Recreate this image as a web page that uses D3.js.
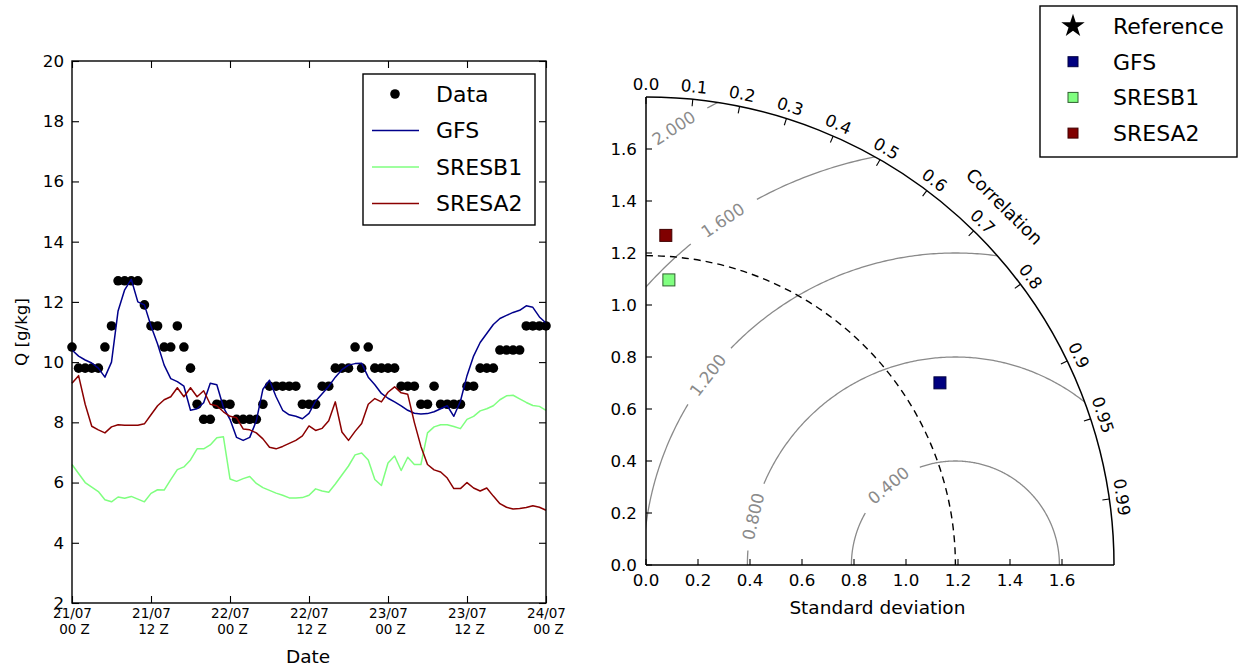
<!DOCTYPE html>
<html>
<head>
<meta charset="utf-8">
<script src="https://cdn.jsdelivr.net/npm/d3@7"></script>
<style>
  body { margin: 0; background: #fff; }
  svg { display: block; }
  text { font-family: "DejaVu Sans", sans-serif; }
</style>
</head>
<body>
<svg id="fig" width="1240" height="663"></svg>
<script>
// ---------------- Time series: specific humidity, hourly from 21/07 00 Z ----------------
const obsQ = [
  10.5, 9.8, 9.8, 9.8, 9.8, 10.5, 11.2, 12.7, 12.7, 12.7, 12.7, 11.9, 11.2, 11.2,
  10.5, 10.5, 11.2, 10.5, 9.8, 8.6, 8.1, 8.1, 8.6, 8.6, 8.6, 8.1, 8.1, 8.1, 8.1,
  8.6, 9.2, 9.2, 9.2, 9.2, 9.2, 8.6, 8.6, 8.6, 9.2, 9.2, 9.8, 9.8, 9.8, 10.5,
  9.8, 10.5, 9.8, 9.8, 9.8, 9.8, 9.2, 9.2, 9.2, 8.6, 8.6, 9.2, 8.6, 8.6, 8.6,
  8.6, 9.2, 9.2, 9.8, 9.8, 9.8, 10.4, 10.4, 10.4, 10.4, 11.2, 11.2, 11.2, 11.2
];
const gfsQ = [
  10.4, 10.2, 10.07, 9.97, 9.8, 9.5, 10.0, 11.7, 12.4, 12.75, 12.0, 11.9, 11.2, 10.6,
  9.9, 9.45, 9.35, 9.2, 8.4, 8.45, 8.65, 9.3, 9.25, 8.5, 8.1, 7.5, 7.4, 7.5, 8.05,
  9.1, 9.4, 8.85, 8.4, 8.25, 8.2, 8.12, 8.3, 8.7, 8.95, 9.2, 9.5, 9.75, 9.9, 9.95,
  9.96, 9.5, 9.25, 8.96, 8.8, 8.68, 8.55, 8.4, 8.3, 8.28, 8.29, 8.35, 8.45, 8.55,
  8.2, 8.7, 9.55, 10.2, 10.65, 10.95, 11.25, 11.45, 11.55, 11.65, 11.72, 11.87,
  11.82, 11.5, 11.3
];
const sresb1Q = [
  6.6, 6.3, 6.0, 5.85, 5.7, 5.43, 5.36, 5.52, 5.48, 5.54, 5.45, 5.36, 5.64, 5.76,
  5.75, 6.1, 6.43, 6.52, 6.75, 7.12, 7.12, 7.25, 7.49, 7.52, 6.12, 6.04, 6.13, 6.2,
  5.97, 5.83, 5.74, 5.65, 5.58, 5.49, 5.49, 5.5, 5.58, 5.79, 5.72, 5.68, 5.95, 6.25,
  6.55, 6.92, 6.98, 6.75, 6.1, 5.9, 6.65, 6.88, 6.4, 6.84, 6.6, 6.6, 7.65, 7.85,
  7.92, 7.92, 7.86, 7.79, 8.1, 8.2, 8.38, 8.45, 8.55, 8.75, 8.88, 8.9, 8.78, 8.66,
  8.56, 8.53, 8.4
];
const sresa2Q = [
  9.3, 9.55, 8.6, 7.87, 7.75, 7.65, 7.85, 7.92, 7.9, 7.9, 7.9, 7.95, 8.25, 8.55,
  8.75, 8.85, 9.15, 8.85, 9.15, 8.85, 9.05, 8.6, 8.55, 8.35, 8.2, 8.15, 7.78, 7.75,
  7.65, 7.45, 7.17, 7.12, 7.2, 7.3, 7.4, 7.55, 7.88, 7.73, 7.8, 8.05, 8.68, 7.68,
  7.4, 7.7, 7.96, 8.6, 8.79, 8.68, 9.0, 9.18, 8.98, 8.93, 8.0, 7.2, 6.6, 6.42,
  6.35, 6.15, 5.8, 5.8, 6.0, 5.82, 5.72, 5.82, 5.55, 5.3, 5.18, 5.12, 5.14, 5.17,
  5.23, 5.18, 5.08
];
const timeTickHours = [0, 12, 24, 36, 48, 60, 72];
const timeTickLabels = [
  ["21/07", "00 Z"], ["21/07", "12 Z"], ["22/07", "00 Z"], ["22/07", "12 Z"],
  ["23/07", "00 Z"], ["23/07", "12 Z"], ["24/07", "00 Z"]
];
const qTicks = [2, 4, 6, 8, 10, 12, 14, 16, 18, 20];
const seriesNames = ["Data", "GFS", "SRESB1", "SRESA2"];

// ---------------- Taylor diagram statistics ----------------
const refStd = 1.19;
const modelNames = ["GFS", "SRESB1", "SRESA2"];
const modelStd = [1.33, 1.10, 1.27];
const modelCorr = [0.85, 0.08, 0.06];
const rmsLevels = [0.4, 0.8, 1.2, 1.6, 2.0];
const corrTicks = [0.0, 0.1, 0.2, 0.3, 0.4, 0.5, 0.6, 0.7, 0.8, 0.9, 0.95, 0.99];
const stdTicks = [0.0, 0.2, 0.4, 0.6, 0.8, 1.0, 1.2, 1.4, 1.6];
const stdMax = 1.8;

// colours
const colGFS = "#00008b";
const colB1 = "#7fff7f";
const colA2 = "#8b0000";
const modelFill = ["#000080", "#80ff80", "#800000"];
const modelEdge = ["#000040", "#2f5f2f", "#400000"];

const svg = d3.select("#fig");
const FS = 16.7;

// =============== left panel: time series ===============
const xL = d3.scaleLinear().domain([0, 72]).range([72, 546]);
const yL = d3.scaleLinear().domain([2, 20]).range([603, 61]);
const left = svg.append("g");

// observations
left.append("g").selectAll("circle").data(obsQ).join("circle")
  .attr("cx", (d, i) => xL(i)).attr("cy", d => yL(d)).attr("r", 4.8)
  .attr("fill", "#000");

const lineGen = d3.line().x((d, i) => xL(i)).y(d => yL(d));
[[gfsQ, colGFS], [sresb1Q, colB1], [sresa2Q, colA2]].forEach(([s, c]) => {
  left.append("path").datum(s).attr("d", lineGen)
    .attr("fill", "none").attr("stroke", c).attr("stroke-width", 1.5)
    .attr("stroke-linejoin", "round");
});

// frame
left.append("rect")
  .attr("x", xL(0)).attr("y", yL(20))
  .attr("width", xL(72) - xL(0)).attr("height", yL(2) - yL(20))
  .attr("fill", "none").attr("stroke", "#000").attr("stroke-width", 1.4);

function styleAxis(g) {
  g.select(".domain").remove();
  g.selectAll("line").attr("stroke", "#000").attr("stroke-width", 1.1);
  g.selectAll("text").attr("fill", "#000").style("font-family", "DejaVu Sans");
}
left.append("g").attr("transform", `translate(${xL(0)},0)`)
  .call(d3.axisLeft(yL).tickValues(qTicks).tickSize(-7).tickPadding(8).tickFormat(d3.format("d")))
  .call(styleAxis).selectAll("text").attr("font-size", FS);
left.append("g").attr("transform", `translate(${xL(72)},0)`)
  .call(d3.axisRight(yL).tickValues(qTicks).tickSize(-7).tickFormat(""))
  .call(styleAxis);
left.append("g").attr("transform", `translate(0,${yL(20)})`)
  .call(d3.axisTop(xL).tickValues(timeTickHours).tickSize(-7).tickFormat(""))
  .call(styleAxis);
const xAx = left.append("g").attr("transform", `translate(0,${yL(2)})`)
  .call(d3.axisBottom(xL).tickValues(timeTickHours).tickSize(-7).tickFormat(""))
  .call(styleAxis);
xAx.selectAll(".tick").append("text")
  .attr("text-anchor", "middle").attr("font-size", 13.5).attr("fill", "#000")
  .each(function (d) {
    const lab = timeTickLabels[timeTickHours.indexOf(d)];
    const t = d3.select(this);
    t.append("tspan").attr("x", 0).attr("y", 15).text(lab[0]);
    t.append("tspan").attr("x", 2).attr("y", 31).text(lab[1]);
  });

left.append("text").attr("x", 308).attr("y", 663).attr("text-anchor", "middle")
  .attr("font-size", 18.5).text("Date");
left.append("text").attr("transform", "translate(27,332) rotate(-90)")
  .attr("text-anchor", "middle").attr("font-size", FS).text("Q [g/kg]");

// legend
const legL = left.append("g").attr("transform", "translate(363,74)");
legL.append("rect").attr("width", 172).attr("height", 151)
  .attr("fill", "#fff").attr("stroke", "#000").attr("stroke-width", 1.4);
seriesNames.forEach((name, i) => {
  const y = 20 + i * 36.5;
  if (i === 0) {
    legL.append("circle").attr("cx", 32).attr("cy", y).attr("r", 4.8).attr("fill", "#000");
  } else {
    legL.append("line").attr("x1", 9).attr("x2", 56).attr("y1", y).attr("y2", y)
      .attr("stroke", [colGFS, colB1, colA2][i - 1]).attr("stroke-width", 1.5);
  }
  legL.append("text").attr("x", 73).attr("y", y).attr("dy", "0.36em")
    .attr("font-size", 22).text(name);
});

// =============== right panel: Taylor diagram ===============
const O = { x: 646, y: 565 };
const rS = d3.scaleLinear().domain([0, stdMax]).range([0, 468]);
const P = (x, y) => [O.x + rS(x), O.y - rS(y)];
const R = rS(stdMax);
const tay = svg.append("g");

const defs = svg.append("defs");
defs.append("clipPath").attr("id", "quarter").append("path")
  .attr("d", `M${O.x},${O.y} L${O.x + R},${O.y} A${R},${R} 0 0 0 ${O.x},${O.y - R} Z`);
defs.append("clipPath").attr("id", "above").append("rect")
  .attr("x", O.x - 20).attr("y", O.y - R - 20).attr("width", R + 40).attr("height", R + 21);

// RMS difference contours with inline label gaps (degrees around the reference point)
const labelAt = { 0.4: [130, 20], 0.8: [166.5, 9.5], 1.2: [142.5, 6.5], 1.6: [124, 5.5], 2.0: [122.8, 4] };
const contourG = tay.append("g").attr("clip-path", "url(#quarter)");
const arcLine = d3.line().defined(d => d !== null).x(d => d[0]).y(d => d[1]);
rmsLevels.forEach(k => {
  const [ca, hw] = labelAt[k];
  const pts = d3.range(0, 180.01, 0.5).map(a => {
    if (Math.abs(a - ca) < hw) return null;
    const t = a * Math.PI / 180;
    return P(refStd + k * Math.cos(t), k * Math.sin(t));
  });
  contourG.append("path").attr("d", arcLine(pts))
    .attr("fill", "none").attr("stroke", "#8a8a8a").attr("stroke-width", 1.3);
  const t = ca * Math.PI / 180;
  const [lx, ly] = P(refStd + k * Math.cos(t), k * Math.sin(t));
  tay.append("text").attr("transform", `translate(${lx},${ly}) rotate(${90 - ca})`)
    .attr("text-anchor", "middle").attr("dy", "0.36em")
    .attr("font-size", FS).attr("fill", "#8a8a8a").text(k.toFixed(3));
});

// reference std arc (dashed), from the std axis down to the reference point
const rRef = rS(refStd);
tay.append("path")
  .attr("d", `M${O.x},${O.y - rRef} A${rRef},${rRef} 0 0 1 ${O.x + rRef},${O.y}`)
  .attr("fill", "none").attr("stroke", "#000").attr("stroke-width", 1.4)
  .attr("stroke-dasharray", "7,5");

// outer correlation arc and std axes
tay.append("path")
  .attr("d", `M${O.x},${O.y - R} A${R},${R} 0 0 1 ${O.x + R},${O.y}`)
  .attr("fill", "none").attr("stroke", "#000").attr("stroke-width", 1.5);
tay.append("line").attr("x1", O.x).attr("y1", O.y).attr("x2", O.x + R).attr("y2", O.y)
  .attr("stroke", "#000").attr("stroke-width", 1.5);
tay.append("line").attr("x1", O.x).attr("y1", O.y).attr("x2", O.x).attr("y2", O.y - R)
  .attr("stroke", "#000").attr("stroke-width", 1.5);

// std ticks and labels
stdTicks.forEach(s => {
  tay.append("line").attr("x1", O.x + rS(s)).attr("x2", O.x + rS(s))
    .attr("y1", O.y).attr("y2", O.y - 6).attr("stroke", "#000").attr("stroke-width", 1.1);
  tay.append("text").attr("x", O.x + rS(s)).attr("y", O.y + 21)
    .attr("text-anchor", "middle").attr("font-size", FS).text(s.toFixed(1));
  tay.append("line").attr("y1", O.y - rS(s)).attr("y2", O.y - rS(s))
    .attr("x1", O.x).attr("x2", O.x + 6).attr("stroke", "#000").attr("stroke-width", 1.1);
  tay.append("text").attr("x", O.x - 9).attr("y", O.y - rS(s)).attr("dy", "0.36em")
    .attr("text-anchor", "end").attr("font-size", FS).text(s.toFixed(1));
});
tay.append("text").attr("x", O.x + rS(0.89)).attr("y", O.y + 49)
  .attr("text-anchor", "middle").attr("font-size", 18.5).text("Standard deviation");

// correlation ticks and labels
corrTicks.forEach(c => {
  const phi = Math.acos(c);
  const cx = Math.cos(phi), cy = Math.sin(phi);
  tay.append("line")
    .attr("x1", O.x + R * cx).attr("y1", O.y - R * cy)
    .attr("x2", O.x + (R - 7) * cx).attr("y2", O.y - (R - 7) * cy)
    .attr("stroke", "#000").attr("stroke-width", 1.1);
  const rl = R + 13;
  tay.append("text")
    .attr("transform", `translate(${O.x + rl * cx},${O.y - rl * cy}) rotate(${90 - phi * 180 / Math.PI})`)
    .attr("text-anchor", "middle").attr("dy", "0.36em").attr("font-size", FS)
    .text(c === 0.95 || c === 0.99 ? c.toFixed(2) : c.toFixed(1));
});
tay.append("text")
  .attr("transform", `translate(${O.x + (R + 39) * Math.SQRT1_2},${O.y - (R + 39) * Math.SQRT1_2}) rotate(45)`)
  .attr("text-anchor", "middle").attr("dy", "0.36em").attr("font-size", 18).text("Correlation");

// model points
const star = d3.symbol().type(d3.symbolStar).size(170);
const [rx, ry] = P(refStd, 0);
tay.append("path").attr("d", star()).attr("transform", `translate(${rx},${ry})`)
  .attr("fill", "#000").attr("clip-path", "url(#above)");
modelNames.forEach((n, i) => {
  const s = modelStd[i], c = modelCorr[i];
  const [px, py] = P(s * c, s * Math.sqrt(1 - c * c));
  tay.append("rect").attr("x", px - 6).attr("y", py - 6).attr("width", 12).attr("height", 12)
    .attr("fill", modelFill[i]).attr("stroke", modelEdge[i]).attr("stroke-width", 1);
});

// legend
const legR = tay.append("g").attr("transform", "translate(1040,6)");
legR.append("rect").attr("width", 197).attr("height", 151)
  .attr("fill", "#fff").attr("stroke", "#000").attr("stroke-width", 1.4);
["Reference"].concat(modelNames).forEach((n, i) => {
  const y = 20 + i * 35.7;
  if (i === 0) {
    legR.append("path").attr("d", star()).attr("transform", `translate(33,${y})`).attr("fill", "#000");
  } else {
    legR.append("rect").attr("x", 28).attr("y", y - 5).attr("width", 10).attr("height", 10)
      .attr("fill", modelFill[i - 1]).attr("stroke", modelEdge[i - 1]).attr("stroke-width", 1);
  }
  legR.append("text").attr("x", 73).attr("y", y).attr("dy", "0.36em")
    .attr("font-size", 22).text(n);
});
</script>
</body>
</html>
